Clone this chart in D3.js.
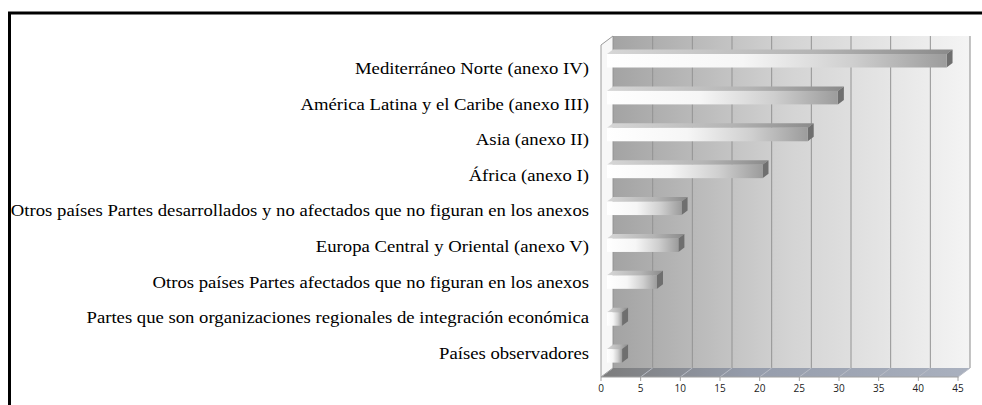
<!DOCTYPE html>
<html>
<head>
<meta charset="utf-8">
<script src="https://cdn.jsdelivr.net/npm/d3@7"></script>
<style>
  body { margin: 0; background: #fff; }
  svg { display: block; }
</style>
</head>
<body>
<script>
// Data
var categories = [
  "Mediterráneo Norte (anexo IV)",
  "América Latina y el Caribe (anexo III)",
  "Asia (anexo II)",
  "África (anexo I)",
  "Otros países Partes desarrollados y no afectados que no figuran en los anexos",
  "Europa Central y Oriental (anexo V)",
  "Otros países Partes afectados que no figuran en los anexos",
  "Partes que son organizaciones regionales de integración económica",
  "Países observadores"
];
var values = [42.8, 29.1, 25.3, 19.6, 9.4, 9.0, 6.3, 1.9, 1.9];
var tickValues = [0, 5, 10, 15, 20, 25, 30, 35, 40, 45];

var width = 982, height = 405;
var depthX = 12, depthY = -9;   // 3D offset of the back wall

var svg = d3.select("body").append("svg")
            .attr("width", width)
            .attr("height", height);

var defs = svg.append("defs");

function linGrad(id, stops) {
  var g = defs.append("linearGradient").attr("id", id)
              .attr("x1", "0").attr("y1", "0").attr("x2", "1").attr("y2", "0");
  stops.forEach(function(s) {
    g.append("stop").attr("offset", s[0]).attr("stop-color", s[1]);
  });
}
linGrad("wallGrad", [[0, "#a3a3a3"], [0.5, "#d4d4d4"], [1, "#f4f4f4"]]);
linGrad("floorGrad", [[0, "#7c7c7c"], [0.4, "#959cab"], [1, "#aab1bf"]]);
linGrad("barFront", [[0, "#ffffff"], [0.4, "#f6f6f6"], [0.72, "#cfcfcf"], [1, "#9c9c9c"]]);
linGrad("barTop", [[0, "#d6d6d6"], [0.6, "#b4b4b4"], [1, "#8a8a8a"]]);

var x = d3.scaleLinear().domain([0, 45]).range([601, 958]);
var y = d3.scaleBand().domain(categories).range([45, 377]).paddingInner(0).paddingOuter(0);
var yLabel = d3.scalePoint().domain(categories).range([68, 353]);

var top0 = y.range()[0], bot0 = y.range()[1];
var x0 = x(0), x1 = x(45);

// back wall
svg.append("polygon")
   .attr("points", [[x0 + depthX, top0 + depthY], [x1 + depthX, top0 + depthY],
                    [x1 + depthX, bot0 + depthY], [x0 + depthX, bot0 + depthY]].join(" "))
   .attr("fill", "url(#wallGrad)");

// grid lines on the back wall
svg.selectAll(".grid").data(tickValues).enter().append("line")
   .attr("x1", function(d) { return x(d) + depthX; })
   .attr("x2", function(d) { return x(d) + depthX; })
   .attr("y1", top0 + depthY)
   .attr("y2", bot0 + depthY)
   .attr("stroke", function(d) { return d === 45 ? "#8a8a8a" : "#939393"; })
   .attr("stroke-width", 1);

// floor
svg.append("polygon")
   .attr("points", [[x0, bot0], [x1, bot0], [x1 + depthX, bot0 + depthY], [x0 + depthX, bot0 + depthY]].join(" "))
   .attr("fill", "url(#floorGrad)");

svg.selectAll(".floorLine").data(tickValues).enter().append("line")
   .attr("x1", function(d) { return x(d) + depthX; })
   .attr("x2", function(d) { return x(d); })
   .attr("y1", bot0 + depthY)
   .attr("y2", bot0)
   .attr("stroke", "#b8bcc6")
   .attr("stroke-width", 1);

// left side wall
svg.append("polygon")
   .attr("points", [[x0, top0], [x0 + depthX, top0 + depthY], [x0 + depthX, bot0 + depthY], [x0, bot0]].join(" "))
   .attr("fill", "#f7f7f7")
   .attr("stroke", "#9a9a9a")
   .attr("stroke-width", 1);

// front axis line and ticks
svg.append("line")
   .attr("x1", x0).attr("x2", x1 + 0.5)
   .attr("y1", bot0).attr("y2", bot0)
   .attr("stroke", "#a0a0a0");

svg.selectAll(".tick").data(tickValues).enter().append("line")
   .attr("x1", function(d) { return x(d); })
   .attr("x2", function(d) { return x(d); })
   .attr("y1", bot0)
   .attr("y2", bot0 + 4)
   .attr("stroke", "#a0a0a0");

svg.selectAll(".tickLabel").data(tickValues).enter().append("text")
   .attr("x", function(d) { return x(d); })
   .attr("y", bot0 + 15)
   .attr("text-anchor", "middle")
   .attr("font-family", "'Open Sans', sans-serif")
   .attr("font-size", 10)
   .attr("fill", "#222")
   .text(function(d) { return d; });

// bars (front face sits half way into the depth)
var hx = depthX / 2, hy = depthY / 2;
var faceTop = 9, faceBot = 22.5;

var bars = svg.selectAll(".bar").data(categories).enter().append("g");

bars.append("polygon")
    .attr("points", function(d, i) {
      var yb = y(d), a = x(0) + hx, b = x(values[i]) + hx;
      return [[a, yb + faceTop], [b, yb + faceTop], [b + hx, yb + faceTop + hy], [a + hx, yb + faceTop + hy]].join(" ");
    })
    .attr("fill", "url(#barTop)");

bars.append("polygon")
    .attr("points", function(d, i) {
      var yb = y(d), b = x(values[i]) + hx;
      return [[b, yb + faceTop], [b + hx, yb + faceTop + hy], [b + hx, yb + faceBot + hy], [b, yb + faceBot]].join(" ");
    })
    .attr("fill", "#6f6f6f");

bars.append("rect")
    .attr("x", x(0) + hx)
    .attr("y", function(d) { return y(d) + faceTop; })
    .attr("width", function(d, i) { return x(values[i]) - x(0); })
    .attr("height", faceBot - faceTop)
    .attr("fill", "url(#barFront)");

// category labels (the source picture is stretched sideways)
svg.selectAll(".catLabel").data(categories).enter().append("text")
   .attr("transform", function(d) { return "translate(589," + yLabel(d) + ") scale(1.1,1)"; })
   .attr("dy", "0.35em")
   .attr("text-anchor", "end")
   .attr("font-family", "'Liberation Serif', 'Times New Roman', serif")
   .attr("font-size", 17)
   .attr("fill", "#000")
   .text(function(d) { return d; });

// outer frame (cut at right and bottom)
svg.append("rect")
   .attr("x", 9.5).attr("y", 13)
   .attr("width", 1000).attr("height", 500)
   .attr("fill", "none")
   .attr("stroke", "#000")
   .attr("stroke-width", 3);
</script>
</body>
</html>
